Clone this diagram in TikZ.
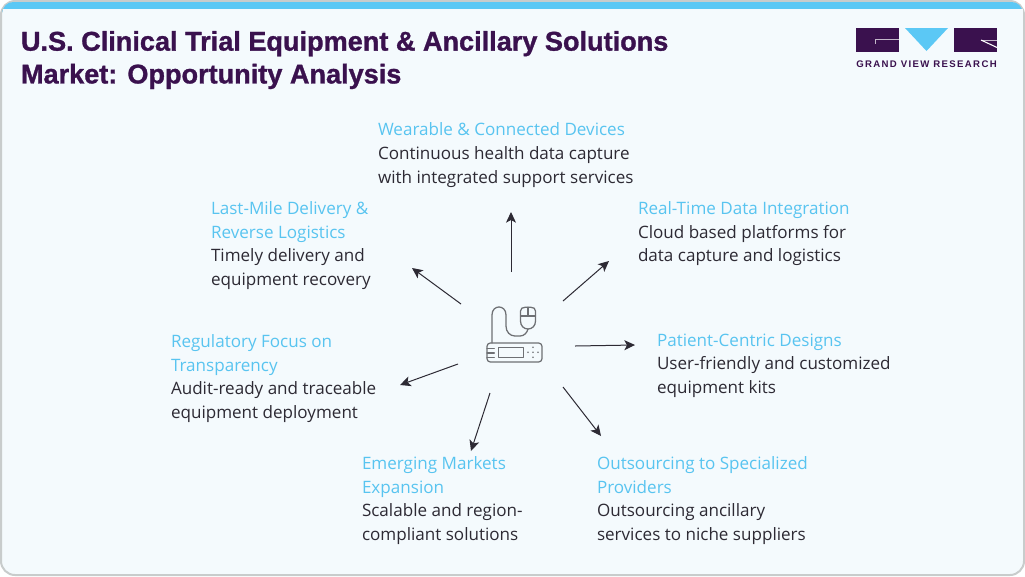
\documentclass[tikz,border=0pt]{standalone}
\usepackage{fontspec}
\setmainfont{Open Sans}
\newfontfamily\titlefont[FakeBold=1.1]{Liberation Sans Bold}
\newfontfamily\logofont[LetterSpace=14]{Liberation Sans Bold}
\usetikzlibrary{arrows.meta}
\definecolor{gvrpurple}{RGB}{58,17,78}
\definecolor{gvrblue}{RGB}{91,200,245}
\definecolor{headblue}{RGB}{88,196,240}
\definecolor{cardfill}{RGB}{244,250,253}
\definecolor{cardedge}{RGB}{200,204,204}
\definecolor{bodytext}{RGB}{45,42,52}
\definecolor{iconline}{RGB}{110,112,116}
\tikzset{
  every picture/.style={line width=0.75pt},
  topic/.style={anchor=north west,inner sep=0pt,align=left,text=bodytext,font=\fontsize{12.8}{17.8}\selectfont},
  pointer/.style={draw=bodytext,line width=0.75pt,-{Stealth[length=8pt,width=7.5pt,inset=2pt]}},
  iconstroke/.style={draw=iconline,line width=0.95pt,line cap=round,line join=round}
}
\newcommand{\hd}[1]{{\color{headblue}#1}}
\begin{document}
\begin{tikzpicture}[x=0.75pt,y=0.75pt,yscale=-1]
	\useasboundingbox (0,0) rectangle (1025,576);
	\fill [white] (0,0) rectangle (1025,576);

	% card
	\draw [fill=cardfill,draw=cardedge,line width=1.5pt,rounded corners=10.5pt] (1,1) rectangle (1024,575);
	\fill [gvrblue,rounded corners=8pt] (2.5,2) -- (2.5,20) -- (1022.5,20) -- (1022.5,2) -- cycle;
	\fill [cardfill] (2.5,8.5) rectangle (1022.5,22);

	% title
	\node (title) [anchor=north west,inner sep=0pt,align=left,text=gvrpurple,font=\titlefont\fontsize{20.32}{24.6}\selectfont] at (20.5,30.5)
		{U.S. Clinical Trial Equipment \& Ancillary Solutions\\Market: Opportunity Analysis};

	% logo
	\fill [gvrpurple] (856,28) rectangle (899,52);
	\draw [white!70!gvrpurple,line width=0.6pt] (875,43.5) -- (875,39.5) -- (899,39.5);
	\fill [gvrblue] (905,28) -- (948,28) -- (926.5,51) -- cycle;
	\fill [gvrpurple] (953.5,28) rectangle (997,52);
	\draw [white!70!gvrpurple,line width=0.6pt] (981,40) -- (997,40);
	\draw [white,line width=0.8pt] (981,40) -- (997,47.5);
	\node (logotext) [anchor=center,inner sep=0pt,text=gvrpurple,font=\logofont\fontsize{7.2}{8}\selectfont] at (926.5,64) {GRAND VIEW RESEARCH};

	% topics
	\node (wearable) [topic] at (377.5,122.3) {\hd{Wearable \& Connected Devices}\\Continuous health data capture\\with integrated support services};
	\node (realtime) [topic] at (637.5,201) {\hd{Real-Time Data Integration}\\Cloud based platforms for\\data capture and logistics};
	\node (patient) [topic] at (656.5,333) {\hd{Patient-Centric Designs}\\User-friendly and customized\\equipment kits};
	\node (outsourcing) [topic] at (596.5,456) {\hd{Outsourcing to Specialized}\\\hd{Providers}\\Outsourcing ancillary\\services to niche suppliers};
	\node (emerging) [topic] at (361.5,456) {\hd{Emerging Markets}\\\hd{Expansion}\\Scalable and region-\\compliant solutions};
	\node (regulatory) [topic] at (170.5,334) {\hd{Regulatory Focus on}\\\hd{Transparency}\\Audit-ready and traceable\\equipment deployment};
	\node (lastmile) [topic] at (210.5,201) {\hd{Last-Mile Delivery \&}\\\hd{Reverse Logistics}\\Timely delivery and\\equipment recovery};

	% connector ends
	\coordinate (upA) at (511,272);
	\coordinate (upB) at (511,212);
	\coordinate (urA) at (563,301);
	\coordinate (urB) at (609,261);
	\coordinate (rtA) at (575,346);
	\coordinate (rtB) at (635,345);
	\coordinate (drA) at (563,387);
	\coordinate (drB) at (601,436);
	\coordinate (dnA) at (490,393);
	\coordinate (dnB) at (471,451);
	\coordinate (ltA) at (458,364);
	\coordinate (ltB) at (400,385);
	\coordinate (ulA) at (461,304);
	\coordinate (ulB) at (412,268);
	\foreach \a/\b in {upA/upB,urA/urB,rtA/rtB,drA/drB,dnA/dnB,ltA/ltB,ulA/ulB}
		\draw [pointer] (\a) -- (\b);

	% device icon
	\draw [iconstroke,rounded corners=2.5pt] (487,343) rectangle (542,362);
	\draw [iconstroke] (498.7,347.3) rectangle (523.3,357.3);
	\draw [iconstroke] (487,348.5) -- (494.3,348.5) (487,353) -- (494.3,353) (487,357.5) -- (494.3,357.5);
	\foreach \dx/\dy in {528/352.3,533/352.3,538/352.3,533/347.3,533/357.3}
		\fill [iconline] (\dx,\dy) circle [radius=0.9];
	\draw [iconstroke] (492,343) -- (492,315) .. controls (492,304.3) and (506,304.3) .. (506,315) -- (506,326) .. controls (506,332) and (510,336) .. (515,336) -- (520,336) .. controls (524,336) and (527,333) .. (528,329);
	\draw [iconstroke] (520.5,316) -- (520.5,311) .. controls (520.5,308.5) and (522.5,307.3) .. (525,307.3) -- (531,307.3) .. controls (533.5,307.3) and (535.5,308.5) .. (535.5,311) -- (535.5,321) .. controls (535.5,326) and (532,329) .. (528,329) .. controls (524,329) and (520.5,326) .. (520.5,321) -- cycle;
	\draw [iconstroke] (520.5,316) -- (535.5,316) (528,307.3) -- (528,316);
\end{tikzpicture}
\end{document}
